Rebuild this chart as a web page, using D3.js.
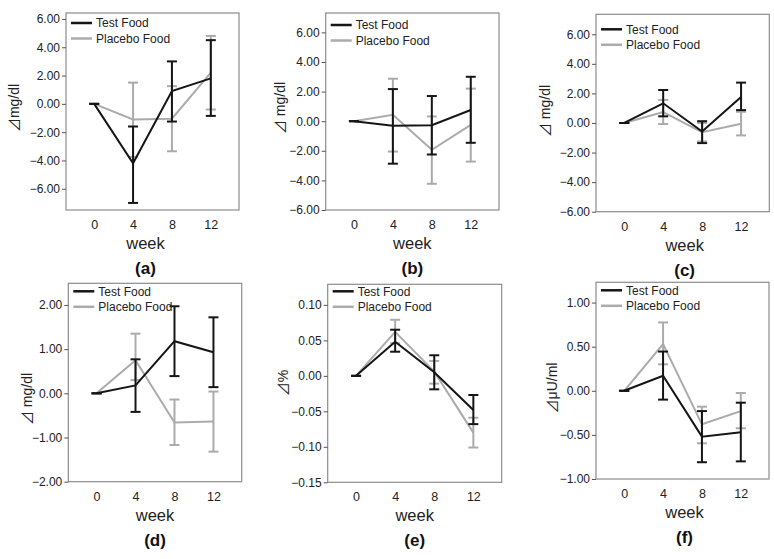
<!DOCTYPE html>
<html>
<head>
<meta charset="utf-8">
<script src="https://cdnjs.cloudflare.com/ajax/libs/d3/7.8.5/d3.min.js"></script>
<style>
  html, body { margin: 0; padding: 0; background: #fff; }
  svg { display: block; }
  text { font-family: "Liberation Sans", Arial, Helvetica, sans-serif; }
</style>
</head>
<body>
<svg id="chart" width="774" height="559"></svg>
<script>
// ---------------- DATA ----------------
const weeks = [0, 4, 8, 12];
const weekLabels = ["0", "4", "8", "12"];
const seriesNames = ["Test Food", "Placebo Food"];
const panelLetters = ["(a)", "(b)", "(c)", "(d)", "(e)", "(f)"];
const deltaSign = "\u22BF";
const yUnits = ["mg/dl", " mg/dl", " mg/dl", " mg/dl", "%", "\u03BCU/ml"];
const xTitle = "week";

const yTicksA = [-6, -4, -2, 0, 2, 4, 6];
const yTicksB = [-6, -4, -2, 0, 2, 4, 6];
const yTicksC = [-6, -4, -2, 0, 2, 4, 6];
const yTicksD = [-2, -1, 0, 1, 2];
const yTicksE = [-0.15, -0.10, -0.05, 0, 0.05, 0.10];
const yTicksF = [-1, -0.5, 0, 0.5, 1];

// (a)
const testMeanA = [0, -4.2, 0.9, 1.8];
const testLoA   = [0, -7.0, -1.25, -0.85];
const testHiA   = [0, -1.6, 3.0, 4.5];
const placMeanA = [0, -1.1, -1.05, 2.2];
const placLoA   = [0, -3.75, -3.35, -0.4];
const placHiA   = [0, 1.5, 1.25, 4.8];
// (b)
const testMeanB = [0, -0.3, -0.27, 0.76];
const testLoB   = [0, -2.87, -2.25, -1.46];
const testHiB   = [0, 2.17, 1.7, 3.0];
const placMeanB = [0, 0.43, -1.93, -0.25];
const placLoB   = [0, -2.05, -4.23, -2.73];
const placHiB   = [0, 2.87, 0.32, 2.2];
// (c)
const testMeanC = [0, 1.33, -0.58, 1.76];
const testLoC   = [0, 0.45, -1.36, 0.87];
const testHiC   = [0, 2.23, 0.12, 2.73];
const placMeanC = [0, 0.74, -0.63, -0.05];
const placLoC   = [0, -0.07, -1.25, -0.84];
const placHiC   = [0, 1.56, 0.0, 0.76];
// (d)
const testMeanD = [0, 0.18, 1.18, 0.93];
const testLoD   = [0, -0.42, 0.39, 0.14];
const testHiD   = [0, 0.77, 1.97, 1.72];
const placMeanD = [0, 0.75, -0.66, -0.64];
const placLoD   = [0, 0.30, -1.17, -1.32];
const placHiD   = [0, 1.35, -0.14, 0.04];
// (e)
const testMeanE = [0, 0.048, 0.005, -0.048];
const testLoE   = [0, 0.034, -0.019, -0.068];
const testHiE   = [0, 0.065, 0.029, -0.027];
const placMeanE = [0, 0.062, 0.006, -0.080];
const placLoE   = [0, 0.046, -0.011, -0.101];
const placHiE   = [0, 0.079, 0.021, -0.059];
// (f)
const testMeanF = [0, 0.17, -0.52, -0.47];
const testLoF   = [0, -0.10, -0.81, -0.80];
const testHiF   = [0, 0.445, -0.23, -0.135];
const placMeanF = [0, 0.53, -0.38, -0.23];
const placLoF   = [0, 0.30, -0.595, -0.425];
const placHiF   = [0, 0.775, -0.18, -0.025];

// ---------------- LAYOUT ----------------
const panels = [
  { box: [66, 239, 13, 210],      yDom: [-7.5, 6.42],   ticks: yTicksA, fmt: ".2f",
    test: [testMeanA, testLoA, testHiA], plac: [placMeanA, placLoA, placHiA],
    leg: 10, titleX: 14, titleY: 108, labelDx: -7 },
  { box: [325.7, 499, 13, 210],   yDom: [-6, 7.31],     ticks: yTicksB, fmt: ".2f",
    test: [testMeanB, testLoB, testHiB], plac: [placMeanB, placLoB, placHiB],
    leg: 12, titleX: 280, titleY: 108, labelDx: 0 },
  { box: [596, 769.3, 14.3, 211.7], yDom: [-6, 7.35],   ticks: yTicksC, fmt: ".2f",
    test: [testMeanC, testLoC, testHiC], plac: [placMeanC, placLoC, placHiC],
    leg: 15, titleX: 545, titleY: 111, labelDx: 2 },
  { box: [68.3, 241.7, 283.3, 481.7], yDom: [-2, 2.49], ticks: yTicksD, fmt: ".2f",
    test: [testMeanD, testLoD, testHiD], plac: [placMeanD, placLoD, placHiD],
    leg: 8, titleX: 27, titleY: 399, labelDx: 0 },
  { box: [327.7, 501.7, 284.3, 482.3], yDom: [-0.15, 0.129], ticks: yTicksE, fmt: ".2f",
    test: [testMeanE, testLoE, testHiE], plac: [placMeanE, placLoE, placHiE],
    leg: 7, titleX: 283, titleY: 383, labelDx: 0 },
  { box: [596, 769, 282.3, 479],  yDom: [-1, 1.23],     ticks: yTicksF, fmt: ".2f",
    test: [testMeanF, testLoF, testHiF], plac: [placMeanF, placLoF, placHiF],
    leg: 8, titleX: 552, titleY: 388, labelDx: 2 }
];
const xDom = [-2.9, 14.9];
const colTest = "#151515", colPlac = "#ababab";
const capW = 10;

const svg = d3.select("#chart");

panels.forEach((p, i) => {
  const [L, R, T, B] = p.box;
  const x = d3.scaleLinear().domain(xDom).range([L, R]);
  const y = d3.scaleLinear().domain(p.yDom).range([B, T]);
  const g = svg.append("g");

  // frame
  g.append("rect").attr("x", L).attr("y", T).attr("width", R - L).attr("height", B - T)
    .attr("fill", "none").attr("stroke", "#8c8c8c").attr("stroke-width", 1.2);

  // y axis
  const yAxis = d3.axisLeft(y).tickValues(p.ticks).tickFormat(d3.format(p.fmt))
    .tickSize(4).tickPadding(2);
  const ya = g.append("g").attr("transform", `translate(${L},0)`).call(yAxis);
  ya.select(".domain").remove();
  ya.selectAll(".tick line").attr("stroke", "#555");
  ya.selectAll(".tick text").attr("fill", "#222").style("font-size", "12px")
    .style("font-family", "'Liberation Sans', Arial, sans-serif");

  // x axis
  const xAxis = d3.axisBottom(x).tickValues(weeks).tickFormat((d, k) => weekLabels[k])
    .tickSize(0).tickPadding(10);
  const xa = g.append("g").attr("transform", `translate(0,${B})`).call(xAxis);
  xa.select(".domain").remove();
  xa.selectAll(".tick text").attr("fill", "#222").style("font-size", "12.5px")
    .style("font-family", "'Liberation Sans', Arial, sans-serif");

  // titles
  const cx = (L + R) / 2 + p.labelDx;
  g.append("text").attr("x", cx).attr("y", B + 39).attr("text-anchor", "middle")
    .style("font-size", "16.5px").attr("fill", "#222").text(xTitle);
  g.append("text").attr("x", cx).attr("y", B + 64).attr("text-anchor", "middle")
    .style("font-size", "17px").style("font-weight", "bold").attr("fill", "#111").text(panelLetters[i]);
  const yt = g.append("text").attr("transform", `translate(${p.titleX + 5},${p.titleY}) rotate(-90)`)
    .attr("text-anchor", "middle").style("font-size", "14px").attr("fill", "#222");
  yt.append("tspan").style("font-family", "'Noto Sans CJK JP', 'DejaVu Sans', sans-serif")
    .style("font-size", "14px").text(deltaSign);
  yt.append("tspan").text(yUnits[i]);

  // series
  const drawSeries = (arr, col) => {
    const [mean, lo, hi] = arr;
    const line = d3.line().x((d, k) => x(weeks[k])).y(d => y(d));
    g.append("path").datum(mean).attr("d", line).attr("fill", "none")
      .attr("stroke", col).attr("stroke-width", 2).attr("stroke-linejoin", "miter");
    weeks.forEach((w, k) => {
      const xx = x(w);
      g.append("line").attr("x1", xx).attr("x2", xx).attr("y1", y(lo[k])).attr("y2", y(hi[k]))
        .attr("stroke", col).attr("stroke-width", 2);
      [lo[k], hi[k]].forEach(v => {
        g.append("line").attr("x1", xx - capW / 2).attr("x2", xx + capW / 2)
          .attr("y1", y(v)).attr("y2", y(v)).attr("stroke", col).attr("stroke-width", 2);
      });
    });
  };
  drawSeries(p.plac, colPlac);
  drawSeries(p.test, colTest);

  // legend
  [[seriesNames[0], colTest], [seriesNames[1], colPlac]].forEach(([name, col], k) => {
    const ly = T + p.leg + k * 15.5;
    g.append("line").attr("x1", L + 5).attr("x2", L + 26).attr("y1", ly).attr("y2", ly)
      .attr("stroke", col).attr("stroke-width", 2.5);
    g.append("text").attr("x", L + 30).attr("y", ly + 4.3).style("font-size", "12px")
      .attr("fill", "#222").text(name);
  });
});
</script>
</body>
</html>
